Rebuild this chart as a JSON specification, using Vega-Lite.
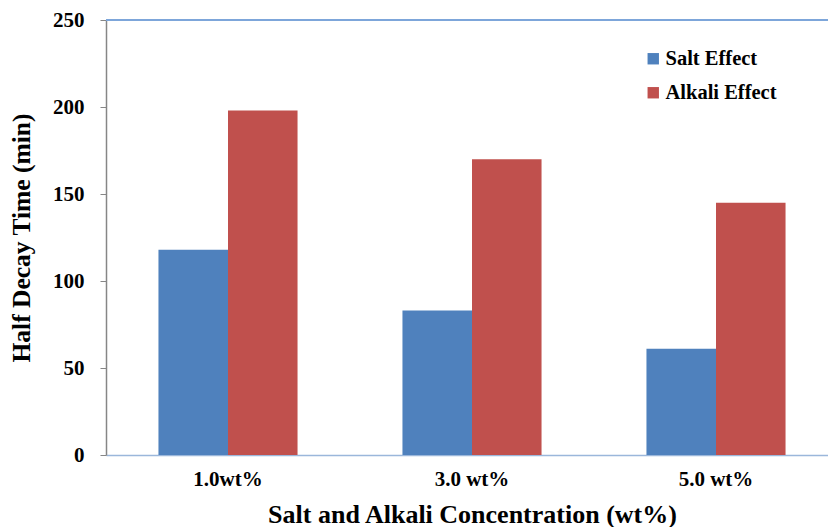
{
  "$schema": "https://vega.github.io/schema/vega-lite/v6.json",
  "width": 722,
  "height": 435,
  "autosize": {"type": "none"},
  "padding": {"left": 106, "top": 20, "right": 0, "bottom": 72},
  "background": "white",
  "config": {
    "view": {"stroke": null},
    "font": "Liberation Serif"
  },
  "data": {
    "values": [
      {"conc": "1.0wt%", "series": "Salt Effect", "time": 118},
      {"conc": "1.0wt%", "series": "Alkali Effect", "time": 198},
      {"conc": "3.0 wt%", "series": "Salt Effect", "time": 83},
      {"conc": "3.0 wt%", "series": "Alkali Effect", "time": 170},
      {"conc": "5.0 wt%", "series": "Salt Effect", "time": 61},
      {"conc": "5.0 wt%", "series": "Alkali Effect", "time": 145}
    ]
  },
  "layer": [
    {
      "mark": {"type": "bar"},
      "encoding": {
        "x": {
          "field": "conc",
          "type": "nominal",
          "sort": null,
          "scale": {"range": [0, 732], "paddingInner": 0.43, "paddingOuter": 0.215},
          "axis": {
            "title": "Salt and Alkali Concentration (wt%)",
            "labelAngle": 0,
            "ticks": false,
            "domainColor": "#9BB7DB",
            "domainWidth": 1.5,
            "labelFont": "Liberation Serif",
            "labelFontWeight": "bold",
            "labelFontSize": 21,
            "labelColor": "#000000",
            "labelPadding": 13,
            "titleFont": "Liberation Serif",
            "titleFontWeight": "bold",
            "titleFontSize": 26,
            "titleColor": "#000000",
            "titlePadding": 12
          }
        },
        "xOffset": {"field": "series", "type": "nominal", "sort": ["Salt Effect", "Alkali Effect"]},
        "y": {
          "field": "time",
          "type": "quantitative",
          "scale": {"domain": [0, 250], "nice": false},
          "axis": {
            "title": "Half Decay Time (min)",
            "values": [0, 50, 100, 150, 200, 250],
            "grid": false,
            "domainColor": "#868686",
            "domainWidth": 1.5,
            "tickColor": "#868686",
            "tickSize": 6,
            "tickWidth": 1,
            "labelFont": "Liberation Serif",
            "labelFontWeight": "bold",
            "labelFontSize": 21,
            "labelColor": "#000000",
            "labelPadding": 16,
            "titleFont": "Liberation Serif",
            "titleFontWeight": "bold",
            "titleFontSize": 25.5,
            "titleColor": "#000000",
            "titlePadding": 18
          }
        },
        "color": {
          "field": "series",
          "type": "nominal",
          "sort": ["Salt Effect", "Alkali Effect"],
          "scale": {"domain": ["Salt Effect", "Alkali Effect"], "range": ["#4F81BD", "#C0504D"]},
          "legend": {
            "title": null,
            "orient": "none",
            "legendX": 537,
            "legendY": 28.5,
            "symbolType": "square",
            "symbolSize": 130,
            "symbolStrokeWidth": 0,
            "labelFont": "Liberation Serif",
            "labelFontWeight": "bold",
            "labelFontSize": 20.5,
            "labelColor": "#000000",
            "labelOffset": 2,
            "rowPadding": 13
          }
        }
      }
    },
    {
      "mark": {"type": "rule", "color": "#7EA6DA", "strokeWidth": 1.5},
      "encoding": {"y": {"datum": 250}}
    }
  ]
}
